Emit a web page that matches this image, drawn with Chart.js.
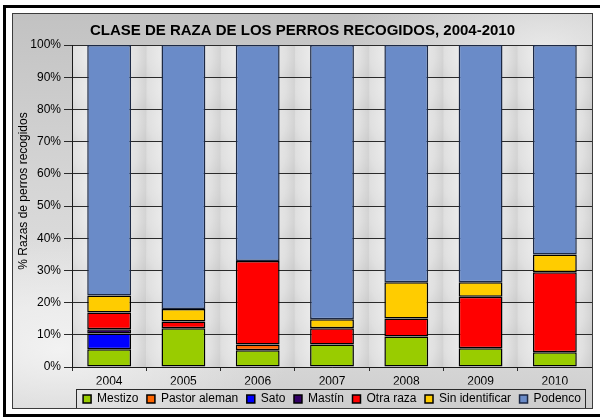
<!DOCTYPE html>
<html lang="es">
<head>
<meta charset="utf-8">
<title>Clase de raza de los perros recogidos, 2004-2010</title>
<script src="https://cdn.jsdelivr.net/npm/chart.js@4.4.1/dist/chart.umd.min.js"></script>
<style>
    html, body {
        margin: 0;
        padding: 0;
        width: 600px;
        height: 419px;
        overflow: hidden;
        background: #ffffff;
    }
    .outer-frame {
        position: absolute;
        left: 3px;
        top: 5px;
        width: 620px;
        height: 412px;
        border: 3px solid #000;
        box-sizing: border-box;
    }
    .chart-box {
        position: absolute;
        left: 12px;
        top: 13px;
        width: 581px;
        height: 396px;
        box-sizing: border-box;
        border: 1px solid #3c3c3c;
        background:
            radial-gradient(ellipse 40% 30% at 8% 85%, rgba(245,245,245,0.9), rgba(245,245,245,0) 100%),
            radial-gradient(ellipse 35% 25% at 92% 8%, rgba(240,240,240,0.8), rgba(240,240,240,0) 100%),
            linear-gradient(180deg, #c2c2c2 0%, #d4d4d4 40%, #e0e0e0 75%, #cdcdcd 100%);
    }
    .chart-wrap {
        position: absolute;
        left: 0;
        top: 0;
        width: 579px;
        height: 394px;
    }
</style>
</head>
<body>
<div class="outer-frame"></div>
<div class="chart-box">
    <div class="chart-wrap"><canvas id="razaChart"></canvas></div>
</div>

<script>
    const years = ['2004', '2005', '2006', '2007', '2008', '2009', '2010'];

    const mestizo        = [5.5, 12.0, 5.2, 7.0, 9.5, 5.8, 4.6];
    const pastorAleman   = [null, null, 1.8, null, null, null, null];
    const sato           = [4.9, null, null, null, null, null, null];
    const mastin         = [1.3, null, null, null, null, null, null];
    const otraRaza       = [5.2, 2.1, 25.9, 5.0, 5.6, 16.0, 24.8];
    const sinIdentificar = [5.3, 3.9, null, 2.8, 11.2, 4.5, 5.5];
    const podenco        = [77.8, 82.0, 67.1, 85.2, 73.7, 73.7, 65.1];

    const seriesNames = ['Mestizo', 'Pastor aleman', 'Sato', 'Mastín', 'Otra raza', 'Sin identificar', 'Podenco'];
    const seriesData = [mestizo, pastorAleman, sato, mastin, otraRaza, sinIdentificar, podenco];
    const seriesColors = ['#99cc00', '#ff6600', '#0000ff', '#330066', '#ff0000', '#ffcc00', '#6a8bc8'];

    const FONT = '"Liberation Sans", Arial, sans-serif';
    const yTitle = '% Razas de perros recogidos';

    // Silver cells behind the bars, one per category / 10% band
    const plotBackground = {
        id: 'plotBackground',
        beforeDraw(chart) {
            const { ctx, chartArea: a } = chart;
            const cols = years.length;
            const rows = 10;
            const w = (a.right - a.left) / cols;
            const h = (a.bottom - a.top) / rows;
            ctx.save();
            for (let c = 0; c < cols; c++) {
                for (let r = 0; r < rows; r++) {
                    const x0 = a.left + c * w;
                    const y0 = a.top + r * h;
                    const g = ctx.createRadialGradient(x0 + w * 0.45, y0 + h * 0.3, 2, x0 + w * 0.45, y0 + h * 0.3, w * 0.7);
                    g.addColorStop(0, '#f6f6f6');
                    g.addColorStop(0.6, '#e0e0e0');
                    g.addColorStop(1, '#c2c2c2');
                    ctx.fillStyle = g;
                    ctx.fillRect(x0, y0, w, h);
                }
            }
            ctx.restore();
        }
    };

    // Rotated y title and the frame round the legend
    const extras = {
        id: 'extras',
        afterDraw(chart) {
            const ctx = chart.ctx;
            ctx.save();
            ctx.fillStyle = '#000';
            ctx.font = '12px ' + FONT;
            ctx.textAlign = 'center';
            ctx.textBaseline = 'middle';
            ctx.translate(11, 177);
            ctx.rotate(-Math.PI / 2);
            ctx.fillText(yTitle, 0, 0);
            ctx.restore();

            const boxes = chart.legend.legendHitBoxes;
            if (!boxes || !boxes.length) return;
            const left = Math.min(...boxes.map(b => b.left)) - 7;
            const right = Math.max(...boxes.map(b => b.left + b.width)) + 4;
            const top = boxes[0].top - 4;
            ctx.save();
            ctx.strokeStyle = '#2a2a2a';
            ctx.lineWidth = 1;
            ctx.strokeRect(Math.round(left) + 0.5, Math.round(top) + 0.5, Math.round(right - left), 20);
            ctx.restore();
        }
    };

    const datasets = seriesNames.map((name, i) => ({
        label: name,
        data: seriesData[i],
        backgroundColor: seriesColors[i],
        borderColor: i === 6 ? '#1c2945' : '#000000',
        borderWidth: 1.5,
        borderSkipped: false,
        categoryPercentage: 1,
        barPercentage: 0.59
    }));

    new Chart(document.getElementById('razaChart'), {
        type: 'bar',
        data: { labels: years, datasets },
        plugins: [plotBackground, extras],
        options: {
            responsive: true,
            maintainAspectRatio: false,
            animation: false,
            layout: { padding: { left: 0, right: 0, top: 0, bottom: -7 } },
            plugins: {
                title: {
                    display: true,
                    text: 'CLASE DE RAZA DE LOS PERROS RECOGIDOS, 2004-2010',
                    color: '#000',
                    font: { family: FONT, size: 15, weight: 'bold' },
                    padding: { top: 8, bottom: 5 }
                },
                legend: {
                    position: 'bottom',
                    fullSize: false,
                    labels: {
                        color: '#000',
                        font: { family: FONT, size: 12 },
                        boxWidth: 8,
                        boxHeight: 8,
                        padding: 8.5
                    }
                },
                tooltip: { enabled: false }
            },
            scales: {
                x: {
                    stacked: true,
                    grid: {
                        offset: true,
                        drawOnChartArea: false,
                        color: '#2a2a2a',
                        tickLength: 4
                    },
                    border: { color: '#1a1a1a' },
                    ticks: {
                        color: '#000',
                        font: { family: FONT, size: 12 },
                        padding: 3,
                        maxRotation: 0
                    },
                    afterFit(scale) { scale.height = 17.5; }
                },
                y: {
                    stacked: true,
                    min: 0,
                    max: 100,
                    grid: {
                        color: '#2a2a2a',
                        tickLength: 8
                    },
                    border: { color: '#1a1a1a' },
                    ticks: {
                        stepSize: 10,
                        color: '#000',
                        font: { family: FONT, size: 12 },
                        padding: 3,
                        callback: v => v + '%'
                    },
                    afterFit(scale) { scale.width = 59; }
                }
            }
        }
    });
</script>
</body>
</html>
